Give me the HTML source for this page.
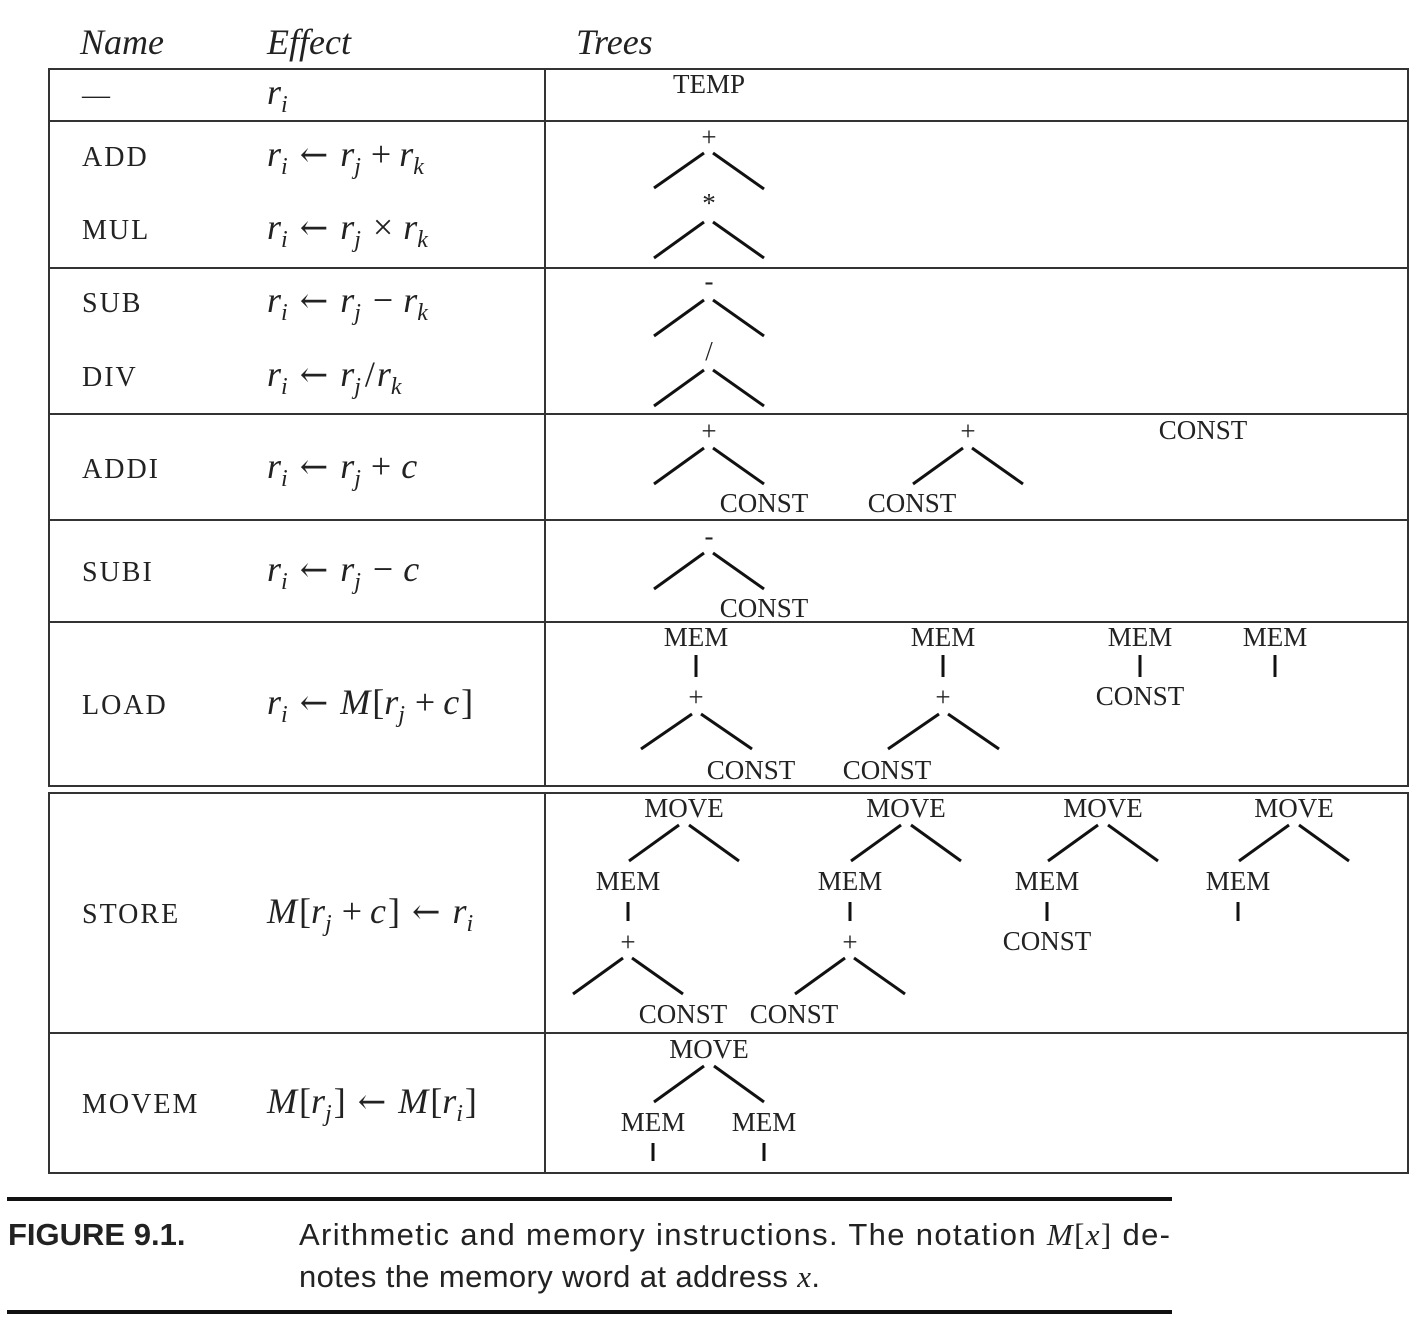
<!DOCTYPE html>
<html><head><meta charset="utf-8"><style>
html,body{margin:0;padding:0;background:#fff}
svg{display:block}
.n{font-family:"Liberation Serif",serif;font-size:28px;letter-spacing:2px;fill:#222}
.e{font-family:"Liberation Serif",serif;font-size:36px;fill:#222}
.i{font-style:italic}
.s{font-size:24px;font-style:italic}
.a{font-family:"DejaVu Serif",serif;font-size:34px}
.t{font-family:"Liberation Serif",serif;font-size:27px;fill:#222;text-anchor:middle}
.h{font-family:"Liberation Serif",serif;font-size:36px;font-style:italic;fill:#222}
.c{font-family:"Liberation Sans",sans-serif;font-size:31px;fill:#222}
line.g{stroke:#111;stroke-width:3}
</style></head><body>
<svg width="1420" height="1324" viewBox="0 0 1420 1324" xmlns="http://www.w3.org/2000/svg">
<text class="h" x="80" y="54">Name</text>
<text class="h" x="267" y="54">Effect</text>
<text class="h" x="576" y="54">Trees</text>
<g stroke="#333" stroke-width="2" fill="none">
<rect x="49" y="69" width="1359" height="717"/>
<rect x="49" y="793" width="1359" height="380"/>
<line x1="545" y1="69" x2="545" y2="786"/>
<line x1="545" y1="793" x2="545" y2="1173"/>
<line x1="49" y1="121" x2="1408" y2="121"/>
<line x1="49" y1="268" x2="1408" y2="268"/>
<line x1="49" y1="414" x2="1408" y2="414"/>
<line x1="49" y1="520" x2="1408" y2="520"/>
<line x1="49" y1="622" x2="1408" y2="622"/>
<line x1="49" y1="1033" x2="1408" y2="1033"/>
</g>
<text class="n" x="82" y="104">—</text>
<text class="n" x="82" y="166">ADD</text>
<text class="n" x="82" y="239">MUL</text>
<text class="n" x="82" y="312">SUB</text>
<text class="n" x="82" y="386">DIV</text>
<text class="n" x="82" y="478">ADDI</text>
<text class="n" x="82" y="581">SUBI</text>
<text class="n" x="82" y="714">LOAD</text>
<text class="n" x="82" y="923">STORE</text>
<text class="n" x="82" y="1113">MOVEM</text>
<text class="e" x="267" y="104"><tspan class="i">r</tspan><tspan class="s" dy="8">i</tspan></text>
<text class="e" x="267" y="166"><tspan class="i">r</tspan><tspan class="s" dy="8">i</tspan><tspan class="a" dy="-8" dx="12">←</tspan><tspan class="i" dx="12">r</tspan><tspan class="s" dy="8">j</tspan><tspan dy="-8" dx="10">+</tspan><tspan class="i" dx="8">r</tspan><tspan class="s" dy="8">k</tspan></text>
<text class="e" x="267" y="239"><tspan class="i">r</tspan><tspan class="s" dy="8">i</tspan><tspan class="a" dy="-8" dx="12">←</tspan><tspan class="i" dx="12">r</tspan><tspan class="s" dy="8">j</tspan><tspan dy="-8" dx="12">×</tspan><tspan class="i" dx="10">r</tspan><tspan class="s" dy="8">k</tspan></text>
<text class="e" x="267" y="312"><tspan class="i">r</tspan><tspan class="s" dy="8">i</tspan><tspan class="a" dy="-8" dx="12">←</tspan><tspan class="i" dx="12">r</tspan><tspan class="s" dy="8">j</tspan><tspan dy="-8" dx="12">−</tspan><tspan class="i" dx="10">r</tspan><tspan class="s" dy="8">k</tspan></text>
<text class="e" x="267" y="386"><tspan class="i">r</tspan><tspan class="s" dy="8">i</tspan><tspan class="a" dy="-8" dx="12">←</tspan><tspan class="i" dx="12">r</tspan><tspan class="s" dy="8">j</tspan><tspan dy="-8" dx="4">/</tspan><tspan class="i" dx="2">r</tspan><tspan class="s" dy="8">k</tspan></text>
<text class="e" x="267" y="478"><tspan class="i">r</tspan><tspan class="s" dy="8">i</tspan><tspan class="a" dy="-8" dx="12">←</tspan><tspan class="i" dx="12">r</tspan><tspan class="s" dy="8">j</tspan><tspan dy="-8" dx="10">+</tspan><tspan class="i" dx="10">c</tspan></text>
<text class="e" x="267" y="581"><tspan class="i">r</tspan><tspan class="s" dy="8">i</tspan><tspan class="a" dy="-8" dx="12">←</tspan><tspan class="i" dx="12">r</tspan><tspan class="s" dy="8">j</tspan><tspan dy="-8" dx="12">−</tspan><tspan class="i" dx="10">c</tspan></text>
<text class="e" x="267" y="714"><tspan class="i">r</tspan><tspan class="s" dy="8">i</tspan><tspan class="a" dy="-8" dx="12">←</tspan><tspan class="i" dx="12">M</tspan><tspan dx="2">[</tspan><tspan class="i">r</tspan><tspan class="s" dy="8">j</tspan><tspan dy="-8" dx="10">+</tspan><tspan class="i" dx="8">c</tspan><tspan dx="2">]</tspan></text>
<text class="e" x="267" y="923"><tspan class="i">M</tspan><tspan dx="2">[</tspan><tspan class="i">r</tspan><tspan class="s" dy="8">j</tspan><tspan dy="-8" dx="10">+</tspan><tspan class="i" dx="8">c</tspan><tspan dx="2">]</tspan><tspan class="a" dx="12">←</tspan><tspan class="i" dx="12">r</tspan><tspan class="s" dy="8">i</tspan></text>
<text class="e" x="267" y="1113"><tspan class="i">M</tspan><tspan dx="2">[</tspan><tspan class="i">r</tspan><tspan class="s" dy="8">j</tspan><tspan dy="-8" dx="2">]</tspan><tspan class="a" dx="12">←</tspan><tspan class="i" dx="12">M</tspan><tspan dx="2">[</tspan><tspan class="i">r</tspan><tspan class="s" dy="8">i</tspan><tspan dy="-8" dx="2">]</tspan></text>
<g>
<text class="t" x="709" y="93" font-size="25">TEMP</text>
<text class="t" x="709" y="146">+</text>
<text class="t" x="709" y="212">*</text>
<text class="t" x="709" y="290">-</text>
<text class="t" x="709" y="360">/</text>
<text class="t" x="709" y="440">+</text>
<text class="t" x="764" y="512">CONST</text>
<text class="t" x="968" y="440">+</text>
<text class="t" x="912" y="512">CONST</text>
<text class="t" x="1203" y="439">CONST</text>
<text class="t" x="709" y="545">-</text>
<text class="t" x="764" y="617">CONST</text>
<text class="t" x="696" y="646">MEM</text>
<text class="t" x="696" y="706">+</text>
<text class="t" x="751" y="779">CONST</text>
<text class="t" x="943" y="646">MEM</text>
<text class="t" x="943" y="706">+</text>
<text class="t" x="887" y="779">CONST</text>
<text class="t" x="1140" y="646">MEM</text>
<text class="t" x="1140" y="705">CONST</text>
<text class="t" x="1275" y="646">MEM</text>
<text class="t" x="684" y="817">MOVE</text>
<text class="t" x="628" y="890">MEM</text>
<text class="t" x="628" y="951">+</text>
<text class="t" x="683" y="1023">CONST</text>
<text class="t" x="906" y="817">MOVE</text>
<text class="t" x="850" y="890">MEM</text>
<text class="t" x="850" y="951">+</text>
<text class="t" x="794" y="1023">CONST</text>
<text class="t" x="1103" y="817">MOVE</text>
<text class="t" x="1047" y="890">MEM</text>
<text class="t" x="1047" y="950">CONST</text>
<text class="t" x="1294" y="817">MOVE</text>
<text class="t" x="1238" y="890">MEM</text>
<text class="t" x="709" y="1058">MOVE</text>
<text class="t" x="653" y="1131">MEM</text>
<text class="t" x="764" y="1131">MEM</text>
</g>
<g>
<line class="g" x1="654" y1="188" x2="704" y2="153"/><line class="g" x1="713" y1="153" x2="764" y2="189"/>
<line class="g" x1="654" y1="258" x2="704" y2="222"/><line class="g" x1="713" y1="222" x2="764" y2="258"/>
<line class="g" x1="654" y1="336" x2="704" y2="300"/><line class="g" x1="713" y1="300" x2="764" y2="336"/>
<line class="g" x1="654" y1="406" x2="704" y2="370"/><line class="g" x1="713" y1="370" x2="764" y2="406"/>
<line class="g" x1="654" y1="484" x2="704" y2="448"/><line class="g" x1="713" y1="448" x2="764" y2="484"/>
<line class="g" x1="913" y1="484" x2="963" y2="448"/><line class="g" x1="972" y1="448" x2="1023" y2="484"/>
<line class="g" x1="654" y1="589" x2="704" y2="553"/><line class="g" x1="713" y1="553" x2="764" y2="589"/>
<line class="g" x1="696" y1="655" x2="696" y2="677"/>
<line class="g" x1="641" y1="749" x2="692" y2="714"/><line class="g" x1="701" y1="714" x2="752" y2="749"/>
<line class="g" x1="943" y1="655" x2="943" y2="677"/>
<line class="g" x1="888" y1="749" x2="939" y2="714"/><line class="g" x1="948" y1="714" x2="999" y2="749"/>
<line class="g" x1="1140" y1="655" x2="1140" y2="677"/>
<line class="g" x1="1275" y1="655" x2="1275" y2="677"/>
<line class="g" x1="629" y1="861" x2="679" y2="825"/><line class="g" x1="689" y1="825" x2="739" y2="861"/>
<line class="g" x1="628" y1="902" x2="628" y2="921"/>
<line class="g" x1="573" y1="994" x2="623" y2="958"/><line class="g" x1="632" y1="958" x2="683" y2="994"/>
<line class="g" x1="851" y1="861" x2="901" y2="825"/><line class="g" x1="911" y1="825" x2="961" y2="861"/>
<line class="g" x1="850" y1="902" x2="850" y2="921"/>
<line class="g" x1="795" y1="994" x2="845" y2="958"/><line class="g" x1="854" y1="958" x2="905" y2="994"/>
<line class="g" x1="1048" y1="861" x2="1098" y2="825"/><line class="g" x1="1108" y1="825" x2="1158" y2="861"/>
<line class="g" x1="1047" y1="902" x2="1047" y2="921"/>
<line class="g" x1="1239" y1="861" x2="1289" y2="825"/><line class="g" x1="1299" y1="825" x2="1349" y2="861"/>
<line class="g" x1="1238" y1="902" x2="1238" y2="921"/>
<line class="g" x1="654" y1="1102" x2="704" y2="1066"/><line class="g" x1="714" y1="1066" x2="764" y2="1102"/>
<line class="g" x1="653" y1="1143" x2="653" y2="1161"/>
<line class="g" x1="764" y1="1143" x2="764" y2="1161"/>
</g>
<rect x="7" y="1197" width="1165" height="4" fill="#111"/>
<rect x="7" y="1310" width="1165" height="4" fill="#111"/>
<text class="c" x="8" y="1245" font-weight="bold" font-size="31">FIGURE 9.1.</text>
<text class="c" x="299" y="1245" textLength="871" lengthAdjust="spacing">Arithmetic and memory instructions. The notation <tspan font-family="Liberation Serif" font-style="italic">M</tspan><tspan font-family="Liberation Serif">[</tspan><tspan font-family="Liberation Serif" font-style="italic">x</tspan><tspan font-family="Liberation Serif">]</tspan> de-</text>
<text class="c" x="299" y="1287" textLength="521" lengthAdjust="spacing">notes the memory word at address <tspan font-family="Liberation Serif" font-style="italic">x</tspan>.</text>
</svg>
</body></html>
